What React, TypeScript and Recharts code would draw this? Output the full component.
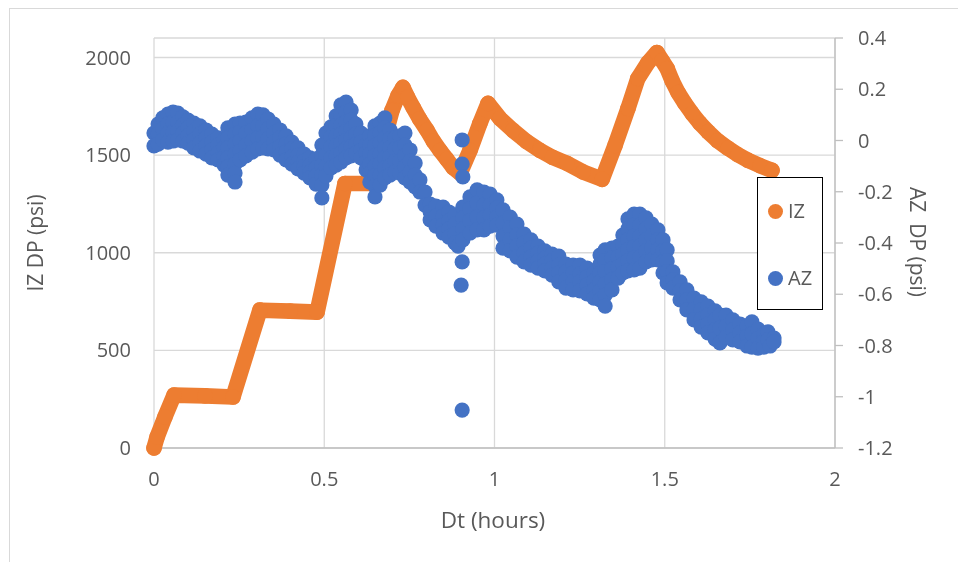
import React from 'react';
import { ScatterChart, Scatter, XAxis, YAxis, CartesianGrid } from 'recharts';

const FONT = '"Open Sans", "Liberation Sans", sans-serif';
const IZ_COLOR = '#ED7D31';
const AZ_COLOR = '#4472C4';
const TEXT = '#595959';
const GRID = '#d9d9d9';
const AXIS = '#bfbfbf';

const timeTicks = [0, 0.5, 1, 1.5, 2];
const izTicks = [0, 500, 1000, 1500, 2000];
const azTicks = [0.4, 0.2, 0, -0.2, -0.4, -0.6, -0.8, -1, -1.2];

// IZ pressure difference (psi) vs elapsed time (hours)
const izCurve: [number, number][] = [
  [0, 0], [0.009, 56], [0.032, 159], [0.059, 271], [0.15, 267], [0.232, 261],
  [0.311, 706], [0.4, 701], [0.479, 696], [0.561, 1355], [0.64, 1355],
  [0.664, 1473], [0.681, 1611], [0.699, 1729], [0.717, 1806], [0.731, 1847],
  [0.745, 1796], [0.761, 1744], [0.78, 1685], [0.802, 1627], [0.82, 1573],
  [0.84, 1524], [0.86, 1479], [0.878, 1437], [0.899, 1407],
  [0.928, 1524], [0.957, 1662], [0.981, 1765], [1.016, 1688], [1.054, 1627],
  [1.094, 1570], [1.134, 1524], [1.17, 1489], [1.213, 1458], [1.26, 1414],
  [1.316, 1376], [1.354, 1550], [1.392, 1739],
  [1.421, 1893], [1.451, 1974], [1.477, 2026], [1.492, 1985], [1.507, 1944],
  [1.522, 1880], [1.539, 1821], [1.559, 1766], [1.58, 1714], [1.603, 1664],
  [1.627, 1620], [1.655, 1574], [1.686, 1535], [1.715, 1502], [1.745, 1473],
  [1.78, 1446], [1.815, 1422],
];

// AZ pressure difference (psi) vs elapsed time (hours)
const azEarly: [number, number][] = [
  [0, 0.029], [0, -0.021],
  [0.012, 0.064], [0.012, 0.025], [0.012, -0.014],
  [0.026, 0.088], [0.026, 0.045], [0.026, 0.002],
  [0.041, 0.103], [0.041, 0.064], [0.041, 0.029], [0.041, -0.006],
  [0.056, 0.111], [0.056, 0.072], [0.056, 0.033], [0.056, -0.002],
  [0.07, 0.107], [0.07, 0.072], [0.07, 0.037], [0.07, 0.002],
  [0.085, 0.092], [0.085, 0.06], [0.085, 0.029], [0.085, -0.002],
  [0.1, 0.08], [0.1, 0.049], [0.1, 0.018], [0.1, -0.01],
  [0.117, 0.068], [0.117, 0.037], [0.117, 0.002], [0.117, -0.029],
  [0.135, 0.057], [0.135, 0.025], [0.135, -0.01], [0.135, -0.041],
  [0.153, 0.041], [0.153, 0.01], [0.153, -0.021], [0.153, -0.053],
  [0.17, 0.025], [0.17, -0.006], [0.17, -0.037], [0.17, -0.068],
  [0.188, 0.01], [0.188, -0.018], [0.188, -0.049], [0.188, -0.076],
  [0.206, 0.002], [0.206, -0.029], [0.206, -0.064], [0.206, -0.096],
  [0.217, 0.049], [0.217, 0.01], [0.217, -0.029], [0.217, -0.068], [0.217, -0.103], [0.217, -0.135],
  [0.238, 0.064], [0.238, 0.025], [0.238, -0.014], [0.238, -0.053], [0.238, -0.092], [0.238, -0.127], [0.238, -0.162],
  [0.253, 0.068], [0.253, 0.033], [0.253, -0.002], [0.253, -0.041], [0.253, -0.076],
  [0.27, 0.072], [0.27, 0.029], [0.27, -0.018], [0.27, -0.06],
  [0.288, 0.088], [0.288, 0.041], [0.288, -0.002], [0.288, -0.045],
  [0.305, 0.103], [0.305, 0.057], [0.305, 0.01], [0.305, -0.033],
  [0.32, 0.1], [0.32, 0.057], [0.32, 0.014], [0.32, -0.029],
  [0.335, 0.084], [0.335, 0.045], [0.335, 0.006], [0.335, -0.033],
  [0.352, 0.064], [0.352, 0.029], [0.352, -0.006], [0.352, -0.037],
  [0.37, 0.041], [0.37, 0.01], [0.37, -0.025], [0.37, -0.057],
  [0.388, 0.018], [0.388, -0.014], [0.388, -0.045], [0.388, -0.076],
  [0.405, -0.006], [0.405, -0.033], [0.405, -0.064], [0.405, -0.092],
  [0.423, -0.029], [0.423, -0.057], [0.423, -0.084], [0.423, -0.111],
  [0.441, -0.053], [0.441, -0.08], [0.441, -0.103], [0.441, -0.127],
  [0.458, -0.068], [0.458, -0.096], [0.458, -0.123], [0.458, -0.146],
  [0.476, -0.072], [0.476, -0.107], [0.476, -0.138], [0.476, -0.17],
  [0.493, -0.018], [0.493, -0.057], [0.493, -0.096], [0.493, -0.135], [0.493, -0.174], [0.493, -0.224],
];

const azMid: [number, number][] = [
  [0.505, 0.029], [0.505, -0.014], [0.505, -0.057], [0.505, -0.1], [0.505, -0.138],
  [0.52, 0.053], [0.52, 0.014], [0.52, -0.025], [0.52, -0.068], [0.52, -0.107],
  [0.535, 0.096], [0.535, 0.057], [0.535, 0.018], [0.535, -0.021], [0.535, -0.06], [0.535, -0.096],
  [0.549, 0.139], [0.549, 0.1], [0.549, 0.06], [0.549, 0.025], [0.549, -0.01], [0.549, -0.049], [0.549, -0.084],
  [0.564, 0.15], [0.564, 0.111], [0.564, 0.072], [0.564, 0.037], [0.564, 0.002], [0.564, -0.033], [0.564, -0.068],
  [0.579, 0.119], [0.579, 0.08], [0.579, 0.045], [0.579, 0.01], [0.579, -0.025], [0.579, -0.06],
  [0.593, 0.064], [0.593, 0.025], [0.593, -0.014], [0.593, -0.049],
  [0.608, 0.029], [0.608, -0.006], [0.608, -0.037], [0.608, -0.068],
  [0.623, -0.018], [0.623, -0.049], [0.623, -0.084], [0.623, -0.115],
  [0.634, 0.018], [0.634, -0.018], [0.634, -0.053], [0.634, -0.092], [0.634, -0.127], [0.634, -0.162],
  [0.649, 0.057], [0.649, 0.018], [0.649, -0.021], [0.649, -0.06], [0.649, -0.1], [0.649, -0.138], [0.649, -0.178], [0.649, -0.22],
  [0.664, 0.068], [0.664, 0.029], [0.664, -0.01], [0.664, -0.053], [0.664, -0.092], [0.664, -0.135], [0.664, -0.174],
  [0.678, 0.088], [0.678, 0.049], [0.678, 0.01], [0.678, -0.029], [0.678, -0.068], [0.678, -0.107], [0.678, -0.146],
  [0.693, 0.041], [0.693, 0.006], [0.693, -0.029], [0.693, -0.064], [0.693, -0.1], [0.693, -0.135],
  [0.708, 0.01], [0.708, -0.033], [0.708, -0.08], [0.708, -0.123],
  [0.722, 0.018], [0.722, -0.029], [0.722, -0.08], [0.722, -0.127],
  [0.737, 0.029], [0.737, -0.018], [0.737, -0.06], [0.737, -0.103], [0.737, -0.146],
  [0.752, -0.037], [0.752, -0.08], [0.752, -0.123], [0.752, -0.162],
  [0.767, -0.088], [0.767, -0.135], [0.767, -0.181],
  [0.781, -0.154], [0.781, -0.201],
  [0.796, -0.201], [0.796, -0.252],
  [0.811, -0.248], [0.811, -0.279], [0.811, -0.31],
  [0.828, -0.256], [0.828, -0.295], [0.828, -0.334],
  [0.849, -0.26], [0.849, -0.295], [0.849, -0.33], [0.849, -0.361],
  [0.866, -0.279], [0.866, -0.314], [0.866, -0.345], [0.866, -0.377],
  [0.884, -0.291], [0.884, -0.326], [0.884, -0.365], [0.884, -0.4],
  [0.893, -0.412],
  [0.907, -0.26], [0.907, -0.302], [0.907, -0.345], [0.907, -0.388],
  [0.928, -0.22], [0.928, -0.267], [0.928, -0.314], [0.928, -0.361],
  [0.949, -0.193], [0.949, -0.244], [0.949, -0.299], [0.949, -0.349],
  [0.969, -0.201], [0.969, -0.252], [0.969, -0.302], [0.969, -0.349],
  [0.987, -0.209], [0.987, -0.252], [0.987, -0.291], [0.987, -0.334],
  [1.007, -0.232], [1.007, -0.263], [1.007, -0.299], [1.007, -0.33],
];

const azLate: [number, number][] = [
  [1.025, -0.271], [1.025, -0.322], [1.025, -0.373], [1.025, -0.42],
  [1.046, -0.299], [1.046, -0.341], [1.046, -0.388], [1.046, -0.431],
  [1.066, -0.326], [1.066, -0.369], [1.066, -0.412], [1.066, -0.455],
  [1.087, -0.365], [1.087, -0.4], [1.087, -0.439], [1.087, -0.474],
  [1.107, -0.388], [1.107, -0.42], [1.107, -0.455], [1.107, -0.486],
  [1.128, -0.412], [1.128, -0.439], [1.128, -0.47], [1.128, -0.498],
  [1.148, -0.431], [1.148, -0.459], [1.148, -0.482], [1.148, -0.509],
  [1.169, -0.443], [1.169, -0.47], [1.169, -0.498], [1.169, -0.525],
  [1.189, -0.451], [1.189, -0.486], [1.189, -0.517], [1.189, -0.552],
  [1.21, -0.482], [1.21, -0.513], [1.21, -0.544], [1.21, -0.576],
  [1.231, -0.486], [1.231, -0.517], [1.231, -0.552], [1.231, -0.583],
  [1.251, -0.486], [1.251, -0.521], [1.251, -0.552], [1.251, -0.587],
  [1.272, -0.498], [1.272, -0.533], [1.272, -0.564], [1.272, -0.599],
  [1.292, -0.517], [1.292, -0.548], [1.292, -0.583], [1.292, -0.615],
  [1.31, -0.447], [1.31, -0.482], [1.31, -0.517], [1.31, -0.552], [1.31, -0.587], [1.31, -0.622],
  [1.325, -0.427], [1.325, -0.47], [1.325, -0.513], [1.325, -0.56], [1.325, -0.603], [1.325, -0.646],
  [1.345, -0.42], [1.345, -0.459], [1.345, -0.501], [1.345, -0.544], [1.345, -0.583],
  [1.363, -0.412], [1.363, -0.455], [1.363, -0.494], [1.363, -0.537],
  [1.377, -0.369], [1.377, -0.408], [1.377, -0.443], [1.377, -0.482], [1.377, -0.517],
  [1.392, -0.306], [1.392, -0.345], [1.392, -0.388], [1.392, -0.427], [1.392, -0.47], [1.392, -0.509],
  [1.41, -0.287], [1.41, -0.33], [1.41, -0.373], [1.41, -0.416], [1.41, -0.459], [1.41, -0.505],
  [1.427, -0.287], [1.427, -0.33], [1.427, -0.373], [1.427, -0.412], [1.427, -0.455], [1.427, -0.498],
  [1.445, -0.302], [1.445, -0.345], [1.445, -0.388], [1.445, -0.431], [1.445, -0.474],
  [1.462, -0.326], [1.462, -0.373], [1.462, -0.42], [1.462, -0.466],
  [1.48, -0.349], [1.48, -0.388], [1.48, -0.427], [1.48, -0.466],
  [1.495, -0.388], [1.495, -0.431], [1.495, -0.474], [1.495, -0.517],
  [1.507, -0.427], [1.507, -0.47], [1.507, -0.513], [1.507, -0.556],
];

const azTail: [number, number][] = [
  [1.524, -0.513], [1.524, -0.544], [1.524, -0.576],
  [1.545, -0.552], [1.545, -0.587], [1.545, -0.622],
  [1.565, -0.583], [1.565, -0.622], [1.565, -0.661],
  [1.586, -0.615], [1.586, -0.658], [1.586, -0.7],
  [1.607, -0.63], [1.607, -0.661], [1.607, -0.697], [1.607, -0.728],
  [1.627, -0.646], [1.627, -0.681], [1.627, -0.716], [1.627, -0.751],
  [1.648, -0.665], [1.648, -0.7], [1.648, -0.739], [1.648, -0.775],
  [1.662, -0.681], [1.662, -0.732], [1.662, -0.79],
  [1.68, -0.681], [1.68, -0.724], [1.68, -0.767],
  [1.7, -0.7], [1.7, -0.739], [1.7, -0.778],
  [1.721, -0.716], [1.721, -0.751], [1.721, -0.786],
  [1.742, -0.724], [1.742, -0.763], [1.742, -0.802],
  [1.756, -0.708], [1.756, -0.755], [1.756, -0.806],
  [1.774, -0.736], [1.774, -0.771], [1.774, -0.81],
  [1.791, -0.755], [1.791, -0.782], [1.791, -0.806],
  [1.803, -0.747], [1.803, -0.778],
  [1.809, -0.802],
  [1.821, -0.771], [1.821, -0.786],
];

const azOutliers: [number, number][] = [
  [0.905, 0.002], [0.905, -0.092], [0.907, -0.142],
  [0.905, -0.474], [0.902, -0.564], [0.905, -1.052],
];

const toRows = (pts: [number, number][]) => pts.map(([x, y]) => ({ x, y }));
const izData = toRows(izCurve);
const azData = toRows([...azEarly, ...azMid, ...azLate, ...azTail, ...azOutliers]);

const dot = (color: string, r: number) => (props: any) => (
  <circle cx={props.cx} cy={props.cy} r={r} fill={color} />
);

const tickStyle = { fill: TEXT, fontSize: 20, fontFamily: FONT };
const fmtAz = (v: number) => String(Math.round(v * 10) / 10);

const titleStyle: React.CSSProperties = {
  position: 'absolute',
  fontFamily: FONT,
  fontSize: 21,
  color: TEXT,
  whiteSpace: 'nowrap',
  lineHeight: 1,
};

export default function App() {
  return (
    <div style={{ position: 'relative', width: 950, height: 546, background: '#fff' }}>
      <div style={{ position: 'fixed', left: 9, top: 8, width: 1, height: 554, background: GRID }} />
      <div style={{ position: 'fixed', left: 9, top: 8, width: 949, height: 1, background: GRID }} />
      <ScatterChart width={950} height={546} margin={{ top: 30, right: 0, bottom: 0, left: 0 }}>
        <CartesianGrid yAxisId="left" stroke={GRID} strokeWidth={1.3} />
        <XAxis
          type="number"
          dataKey="x"
          domain={[0, 2]}
          ticks={timeTicks}
          height={106}
          tickLine={false}
          axisLine={{ stroke: AXIS, strokeWidth: 1.3 }}
          tickMargin={18}
          tick={tickStyle}
          tickFormatter={(v: number) => String(v)}
        />
        <YAxis
          yAxisId="left"
          orientation="left"
          type="number"
          dataKey="y"
          domain={[0, 2100]}
          ticks={izTicks}
          width={146}
          axisLine={false}
          tickLine={false}
          tickMargin={17}
          tick={tickStyle}
        />
        <YAxis
          yAxisId="right"
          orientation="right"
          type="number"
          dataKey="y"
          domain={[-1.2, 0.4]}
          ticks={azTicks}
          width={123}
          axisLine={{ stroke: AXIS, strokeWidth: 1.3 }}
          tickLine={{ stroke: AXIS, strokeWidth: 1.3 }}
          tickSize={8}
          tickMargin={15}
          tick={tickStyle}
          tickFormatter={fmtAz}
        />
        <Scatter
          name="IZ"
          data={izData}
          yAxisId="left"
          fill={IZ_COLOR}
          line={{ stroke: IZ_COLOR, strokeWidth: 15.6, strokeLinecap: 'round', strokeLinejoin: 'round' }}
          shape={dot(IZ_COLOR, 7.8)}
          isAnimationActive={false}
        />
        <Scatter
          name="AZ"
          data={azData}
          yAxisId="right"
          fill={AZ_COLOR}
          shape={dot(AZ_COLOR, 7.6)}
          isAnimationActive={false}
        />
      </ScatterChart>

      <div style={{ ...titleStyle, left: 27, top: 235, transform: 'translate(-50%, -50%) rotate(-90deg)' }}>
        IZ DP (psi)
      </div>
      <div style={{ ...titleStyle, left: 909, top: 234, transform: 'translate(-50%, -50%) rotate(90deg)' }}>
        AZ&nbsp; DP (psi)
      </div>
      <div style={{ ...titleStyle, fontSize: 22.5, left: 485, top: 512, transform: 'translate(-50%, -50%)' }}>
        Dt (hours)
      </div>

      <div
        style={{
          position: 'absolute',
          left: 749,
          top: 169,
          width: 66,
          height: 133,
          boxSizing: 'border-box',
          border: '1.5px solid #000',
          background: '#fff',
          fontFamily: FONT,
          fontSize: 20,
          color: TEXT,
        }}
      >
        {[
          { label: 'IZ', color: IZ_COLOR, cy: 33 },
          { label: 'AZ', color: AZ_COLOR, cy: 100 },
        ].map((item) => (
          <div key={item.label}>
            <div
              style={{
                position: 'absolute',
                left: 10,
                top: item.cy - 7.5,
                width: 15,
                height: 15,
                borderRadius: '50%',
                background: item.color,
              }}
            />
            <div style={{ position: 'absolute', left: 30, top: item.cy - 11, lineHeight: '22px' }}>
              {item.label}
            </div>
          </div>
        ))}
      </div>
    </div>
  );
}
